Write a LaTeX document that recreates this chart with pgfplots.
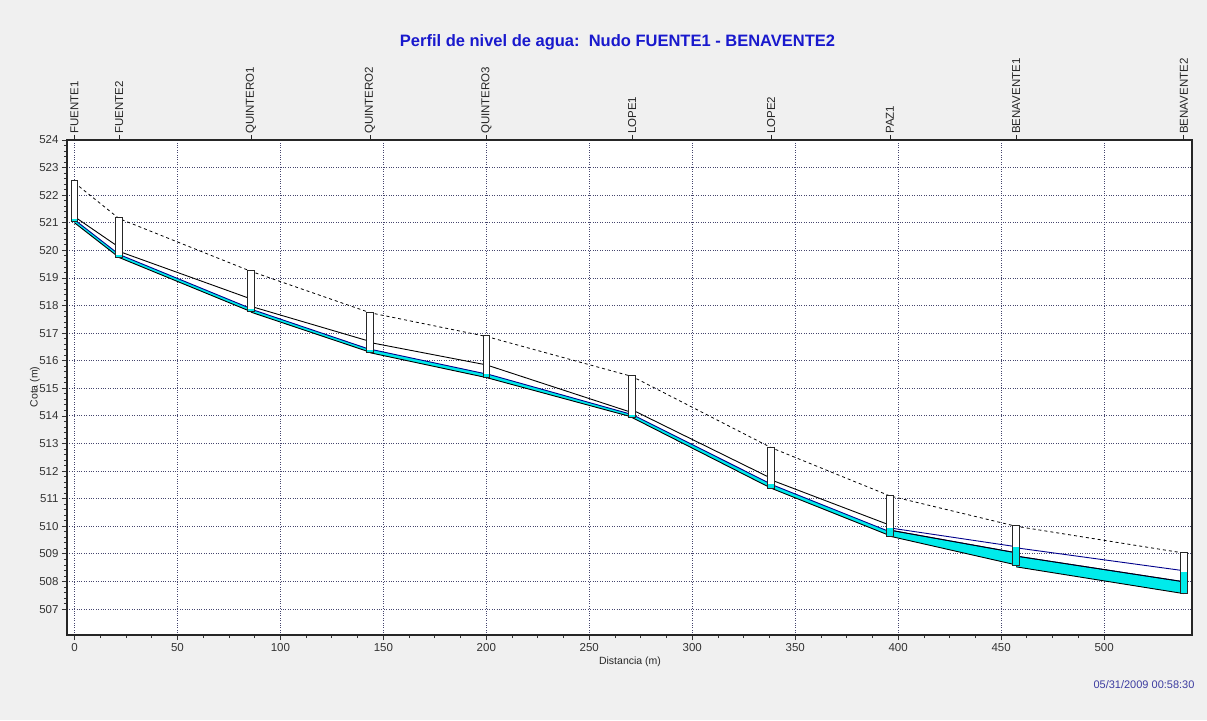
\documentclass[border=0pt]{standalone}
\usepackage{fontspec}
\setmainfont{Liberation Sans}
\usepackage{pgfplots}
\pgfplotsset{compat=1.18}
\definecolor{bgc}{RGB}{240,240,240}
\definecolor{gridc}{RGB}{70,70,110}
\definecolor{wcyan}{RGB}{0,235,235}
\definecolor{hgl}{RGB}{0,0,140}
\definecolor{titc}{RGB}{25,25,205}
\definecolor{datec}{RGB}{60,60,160}
% pipe: x1 x2 inv1 inv2 filltop1 filltop2 crown1 crown2
\newcommand{\pipe}[8]{%
 \addplot[draw=none, fill=wcyan] coordinates {(#1,#3) (#2,#4) (#2,#6) (#1,#5)} --cycle;
 \addplot[hgl, line width=0.9pt] coordinates {(#1,#5) (#2,#6)};
 \addplot[black, line width=0.9pt] coordinates {(#1,#3) (#2,#4)};
 \addplot[black, line width=0.9pt] coordinates {(#1,#7) (#2,#8)};
}
% manhole: xl xr bottom top water
\newcommand{\mh}[5]{%
 \addplot[fill=white, draw=none] coordinates {(#1,#3) (#2,#3) (#2,#4) (#1,#4)} --cycle;
 \addplot[fill=wcyan, draw=none] coordinates {(#1,#3) (#2,#3) (#2,#5) (#1,#5)} --cycle;
 \addplot[draw=black!85, line width=0.9pt] coordinates {(#1,#3) (#2,#3) (#2,#4) (#1,#4)} --cycle;
}
\begin{document}
\begin{tikzpicture}
\fill[bgc] (-67pt,-85pt) rectangle (1140pt,635pt);
\begin{axis}[
  scale only axis, width=1125pt, height=495pt,
  at={(0pt,0pt)}, anchor=south west,
  xmin=-3.64, xmax=542.7, ymin=506.06, ymax=524,
  axis background/.style={fill=white},
  xtick={0,50,...,500}, ytick={507,508,...,524},
  minor x tick num=3, minor y tick num=4,
  xtick pos=left, ytick pos=left,
  tick align=outside,
  major tick length=5pt, minor tick length=3pt,
  grid=major,
  major grid style={gridc, dotted, line width=0.9pt},
  axis line style={black!85, line width=1.2pt},
  tick style={black!80, line width=0.8pt},
  tick label style={font=\fontsize{11.5}{12}\selectfont, text=black!80},
  /pgf/number format/assume math mode=true,
  /pgf/number format/set thousands separator={},
  clip=true,
]
% pipes
\pipe{0}{21.7}{521.00}{519.74}{521.11}{519.85}{521.22}{520.11}
\pipe{21.7}{85.7}{519.74}{517.78}{519.85}{517.89}{519.96}{518.24}
\pipe{85.7}{143.5}{517.76}{516.31}{517.87}{516.41}{517.97}{516.70}
\pipe{143.5}{200.0}{516.29}{515.39}{516.42}{515.52}{516.66}{515.85}
\pipe{200.0}{270.8}{515.39}{513.96}{515.53}{514.05}{515.85}{514.12}
\pipe{270.8}{338.3}{513.94}{511.38}{514.05}{511.53}{514.22}{511.74}
\pipe{338.3}{396.0}{511.38}{509.66}{511.52}{509.80}{511.68}{510.04}
\pipe{396.0}{457.3}{509.64}{508.60}{509.86}{509.04}{509.86}{509.04}
\pipe{457.3}{538.7}{508.53}{507.56}{508.92}{507.99}{508.92}{507.99}
% hydraulic grade line over surcharged pipes
\addplot[hgl, line width=0.9pt] coordinates {(396.0,509.94) (457.3,509.26)};
\addplot[hgl, line width=0.9pt] coordinates {(457.3,509.22) (538.7,508.39)};
% ground line
\addplot[black, line width=0.8pt, dash pattern=on 3pt off 3pt] coordinates {
 (0,522.45) (21.7,521.15) (85.7,519.24) (143.5,517.74) (200.0,516.88)
 (270.8,515.43) (338.3,512.85) (396.0,511.10) (457.3,510.00) (538.7,509.03)};
% manholes
\mh{-1.6}{1.6}{521.05}{522.53}{521.12}
\mh{20.1}{23.3}{519.76}{521.18}{519.84}
\mh{84.1}{87.3}{517.78}{519.26}{517.87}
\mh{141.9}{145.1}{516.31}{517.76}{516.40}
\mh{198.4}{201.6}{515.39}{516.90}{515.52}
\mh{269.2}{272.4}{513.96}{515.45}{514.05}
\mh{336.7}{339.9}{511.38}{512.86}{511.52}
\mh{394.4}{397.6}{509.64}{511.12}{509.92}
\mh{455.7}{458.9}{508.57}{510.02}{509.26}
\mh{537.1}{540.3}{507.56}{509.04}{508.35}
\end{axis}
\begin{axis}[
  scale only axis, width=1125pt, height=495pt,
  at={(0pt,0pt)}, anchor=south west,
  xmin=-3.64, xmax=542.7, ymin=0, ymax=1,
  axis x line*=top, axis y line=none,
  x axis line style={black!85, line width=1.2pt},
  xtick={0,21.7,85.7,143.5,200.0,270.8,338.3,396.0,457.3,538.7},
  xticklabels={FUENTE1,FUENTE2,QUINTERO1,QUINTERO2,QUINTERO3,LOPE1,LOPE2,PAZ1,BENAVENTE1,BENAVENTE2},
  xtick align=outside, major tick length=5pt,
  tick style={black!85, line width=0.8pt},
  xticklabel style={rotate=90, anchor=west, inner sep=1pt, font=\fontsize{11.5}{12}\selectfont, text=black!85},
]
\addplot[draw=none] coordinates {(0,0) (1,1)};
\end{axis}
\node[text=titc, font=\fontsize{16.5}{18}\selectfont\bfseries] at (550.5pt,593pt) {Perfil de nivel de agua:\ \ Nudo FUENTE1 - BENAVENTE2};
\node[text=black!85, font=\fontsize{10.5}{12}\selectfont] at (563pt,-27pt) {Distancia (m)};
\node[text=black!85, font=\fontsize{10.5}{12}\selectfont, rotate=90] at (-32pt,248pt) {Cota (m)};
\node[text=datec, font=\fontsize{11}{12}\selectfont, anchor=east] at (1131pt,-50pt) {05/31/2009 00:58:30};
\end{tikzpicture}
\end{document}
